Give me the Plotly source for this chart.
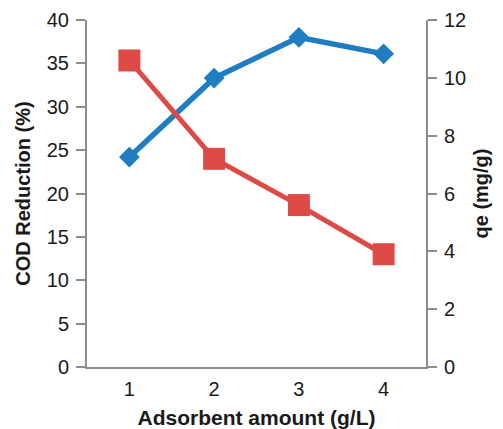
import plotly.graph_objects as go

x_vals = [1, 2, 3, 4]
x_labels = ["1", "2", "3", "4"]
cod_reduction = [24.2, 33.3, 38.0, 36.1]
qe_values = [10.6, 7.2, 5.6, 3.9]

blue = "#1F7DC1"
red = "#DD4B47"
axis_col = "#8C8C8C"
font_fam = "Liberation Sans, Arial, sans-serif"

fig = go.Figure()
fig.add_trace(go.Scatter(
    x=x_vals, y=cod_reduction, mode="lines+markers", yaxis="y",
    line=dict(color=blue, width=5.5),
    marker=dict(symbol="diamond", size=16, color=blue),
    showlegend=False,
))
fig.add_trace(go.Scatter(
    x=x_vals, y=qe_values, mode="lines+markers", yaxis="y2",
    line=dict(color=red, width=5),
    marker=dict(symbol="square", size=22, color=red),
    showlegend=False,
))

# page body has an 8px default margin, so the figure is offset by 8px
fig.update_layout(
    width=495, height=421,
    margin=dict(l=79, r=77, t=12, b=62),
    paper_bgcolor="white", plot_bgcolor="white",
    font=dict(family=font_fam, size=20, color="#1a1a1a"),
    xaxis=dict(
        range=[0.5, 4.5], tickvals=x_vals, ticktext=x_labels,
        showline=True, linecolor=axis_col, linewidth=2,
        showgrid=False, zeroline=False, ticks="", automargin=False,
        ticklabelstandoff=3,
        title=dict(text="<b>Adsorbent amount (g/L)</b>", standoff=22,
                   font=dict(size=21)),
        tickfont=dict(size=20),
    ),
    yaxis=dict(
        range=[0, 40], dtick=5, automargin=False,
        showline=True, linecolor=axis_col, linewidth=2,
        ticks="outside", ticklen=9, tickwidth=2, tickcolor=axis_col,
        ticklabelstandoff=3,
        showgrid=False, zeroline=False,
        title=dict(text="<b>COD Reduction (%)</b>", standoff=11,
                   font=dict(size=20)),
        tickfont=dict(size=20),
    ),
    yaxis2=dict(
        range=[0, 12], dtick=2, overlaying="y", side="right", automargin=False,
        showline=True, linecolor=axis_col, linewidth=2,
        ticks="outside", ticklen=9, tickwidth=2, tickcolor=axis_col,
        ticklabelstandoff=3,
        showgrid=False, zeroline=False,
        title=dict(text="<b>qe (mg/g)</b>", standoff=9,
                   font=dict(size=20)),
        tickfont=dict(size=20),
    ),
)

fig.write_html("out.html")
